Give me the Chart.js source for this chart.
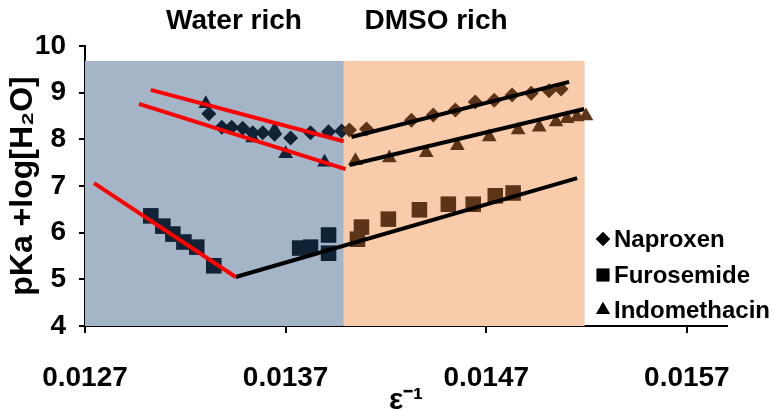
<!DOCTYPE html>
<html>
<head>
<meta charset="utf-8">
<script src="https://cdn.jsdelivr.net/npm/chart.js@4"></script>
<style>
  html, body { margin: 0; padding: 0; background: #fff; }
</style>
</head>
<body>
<canvas id="pkaChart" width="774" height="410"></canvas>
<script>
// values
const naproxenX = [0.013317, 0.013382, 0.013431, 0.013486, 0.013536, 0.013586, 0.013645, 0.013725, 0.013824, 0.013914, 0.013979,
                   0.014018, 0.014103, 0.014327, 0.014436, 0.014546, 0.014645, 0.014740, 0.014829, 0.014924, 0.015013, 0.015073];
const naproxenY = [8.55, 8.26, 8.26, 8.24, 8.14, 8.14, 8.11, 8.03, 8.14, 8.16, 8.18,
                   8.20, 8.22, 8.41, 8.52, 8.63, 8.80, 8.84, 8.95, 8.99, 9.04, 9.08];

const furosemideX = [0.013028, 0.013088, 0.013138, 0.013193, 0.013257, 0.013342, 0.013770, 0.013824, 0.013914, 0.013914,
                     0.014058, 0.014078, 0.014212, 0.014367, 0.014511, 0.014635, 0.014745, 0.014834];
const furosemideY = [6.36, 6.14, 5.97, 5.80, 5.69, 5.29, 5.67, 5.69, 5.95, 5.56,
                     5.86, 6.12, 6.29, 6.49, 6.61, 6.61, 6.79, 6.85];

const indomethacinX = [0.013302, 0.013536, 0.013645, 0.013700, 0.013894,
                       0.014048, 0.014217, 0.014401, 0.014556, 0.014715, 0.014859, 0.014964, 0.015048, 0.015103, 0.015153, 0.015197];
const indomethacinY = [8.76, 8.03, 8.20, 7.69, 7.51,
                       7.54, 7.60, 7.71, 7.86, 8.05, 8.20, 8.26, 8.37, 8.44, 8.48, 8.50];

// fitted lines: [x1, x2], [y1, y2]
const napWaterFitX = [0.013028, 0.013989], napWaterFitY = [9.06, 7.96];
const indWaterFitX = [0.012969, 0.013999], indWaterFitY = [8.76, 7.36];
const furWaterFitX = [0.012745, 0.013451], furWaterFitY = [7.06, 5.05];
const furDmsoFitX = [0.013451, 0.015153], furDmsoFitY = [5.05, 7.17];
const napDmsoFitX = [0.014028, 0.015113], napDmsoFitY = [8.05, 9.23];
const indDmsoFitX = [0.014018, 0.015188], indDmsoFitY = [7.45, 8.65];

const xTicks = [0.0127, 0.0137, 0.0147, 0.0157];
const regionNames = ['Water rich', 'DMSO rich'];
const regionStart = [0.0127, 0.01399];
const regionEnd = [0.01399, 0.01519];
const regionTop = 9.68;
const legendLabels = ['Naproxen', 'Furosemide', 'Indomethacin'];

const boundary = 0.01399;
const waterMark = '#0f2236';
const dmsoMark = '#5c3418';
const regionColors = ['#a3b5c7', '#f8cbab'];
const boldFont = "'Liberation Sans', Arial, sans-serif";

function pts(xs, ys) {
    return xs.map((x, i) => ({ x: x, y: ys[i] }));
}
function markColors(xs) {
    return xs.map(x => x < boundary ? waterMark : dmsoMark);
}
function scatterSet(label, xs, ys, style, radius) {
    return {
        label: label,
        data: pts(xs, ys),
        showLine: false,
        pointStyle: style,
        pointRadius: radius,
        pointHoverRadius: radius,
        pointBackgroundColor: markColors(xs),
        pointBorderColor: markColors(xs),
        pointBorderWidth: 0,
        order: 2
    };
}
function fitSet(xs, ys, color) {
    return {
        label: '',
        data: pts(xs, ys),
        showLine: true,
        borderColor: color,
        borderWidth: 4,
        pointRadius: 0,
        order: 1
    };
}

const shadePlugin = {
    id: 'shade',
    beforeDatasetsDraw(chart) {
        const ctx = chart.ctx, xs = chart.scales.x, ys = chart.scales.y;
        ctx.save();
        regionStart.forEach((s, i) => {
            const x1 = xs.getPixelForValue(s), x2 = xs.getPixelForValue(regionEnd[i]);
            const yTop = ys.getPixelForValue(regionTop), yBot = ys.getPixelForValue(4);
            ctx.fillStyle = regionColors[i];
            ctx.fillRect(x1, yTop, x2 - x1, yBot - yTop);
        });
        ctx.restore();
    },
    afterDraw(chart) {
        const ctx = chart.ctx;
        ctx.save();
        // region headings
        ctx.fillStyle = '#000';
        ctx.font = 'bold 28px ' + boldFont;
        ctx.textAlign = 'center';
        ctx.textBaseline = 'middle';
        const headX = [234, 436];
        regionNames.forEach((n, i) => ctx.fillText(n, headX[i], 21));

        // legend
        const styles = ['rectRot', 'rect', 'triangle'];
        const radii = [7, 9, 8];
        const rowY = [239, 275, 310];
        ctx.font = 'bold 24px ' + boldFont;
        ctx.textAlign = 'left';
        legendLabels.forEach((lab, i) => {
            ctx.fillStyle = '#000';
            Chart.helpers.drawPoint(ctx, { pointStyle: styles[i], radius: radii[i], rotation: 0, borderWidth: 0 }, 603, rowY[i]);
            ctx.fill();
            ctx.fillText(lab, 614, rowY[i] + 1);
        });
        ctx.restore();
    }
};

const ctx = document.getElementById('pkaChart').getContext('2d');
const pkaChart = new Chart(ctx, {
    type: 'scatter',
    data: {
        datasets: [
            scatterSet('Naproxen', naproxenX, naproxenY, 'rectRot', 7.5),
            scatterSet('Furosemide', furosemideX, furosemideY, 'rect', 11),
            scatterSet('Indomethacin', indomethacinX, indomethacinY, 'triangle', 8.5),
            fitSet(napWaterFitX, napWaterFitY, '#ff0000'),
            fitSet(indWaterFitX, indWaterFitY, '#ff0000'),
            fitSet(furWaterFitX, furWaterFitY, '#ff0000'),
            fitSet(furDmsoFitX, furDmsoFitY, '#000000'),
            fitSet(napDmsoFitX, napDmsoFitY, '#000000'),
            fitSet(indDmsoFitX, indDmsoFitY, '#000000')
        ]
    },
    options: {
        responsive: false,
        animation: false,
        devicePixelRatio: 1,
        layout: { padding: { top: 46, right: 47, left: 0, bottom: 0 } },
        plugins: {
            legend: { display: false },
            tooltip: { enabled: false }
        },
        scales: {
            x: {
                type: 'linear',
                min: 0.0127,
                max: 0.0159,
                afterBuildTicks: scale => { scale.ticks = xTicks.map(v => ({ value: v })); },
                afterFit: scale => { scale.height = 84; },
                grid: { display: true, drawOnChartArea: false, drawTicks: true, tickLength: 7, color: '#000', lineWidth: 2 },
                border: { display: true, color: '#000', width: 2 },
                ticks: {
                    color: '#000',
                    padding: 28,
                    maxRotation: 0,
                    font: { family: boldFont, size: 28, weight: 'bold' },
                    callback: v => v.toFixed(4)
                },
                title: {
                    display: true,
                    text: 'ε⁻¹',
                    color: '#000',
                    padding: { top: 0, bottom: -6 },
                    font: { family: boldFont, size: 30, weight: 'bold', lineHeight: 1 }
                }
            },
            y: {
                min: 4,
                max: 10,
                afterFit: scale => { scale.width = 85; },
                grid: { display: true, drawOnChartArea: false, drawTicks: true, tickLength: 6, color: '#000', lineWidth: 2 },
                border: { display: true, color: '#000', width: 2 },
                ticks: {
                    stepSize: 1,
                    color: '#000',
                    padding: 13,
                    font: { family: boldFont, size: 28, weight: 'bold' }
                },
                title: {
                    display: true,
                    text: 'pKa +log[H₂O]',
                    color: '#000',
                    padding: { top: 4, bottom: 0 },
                    font: { family: boldFont, size: 32, weight: 'bold' }
                }
            }
        }
    },
    plugins: [shadePlugin]
});
</script>
</body>
</html>
